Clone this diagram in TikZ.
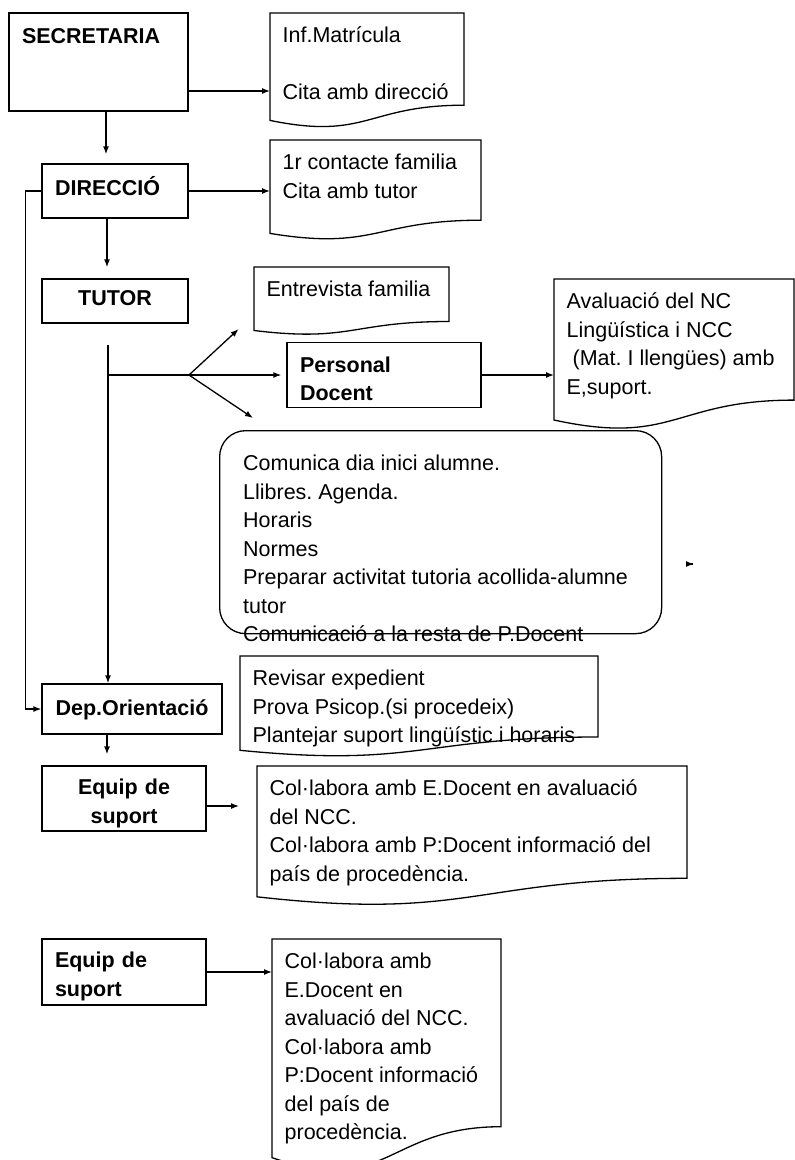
\documentclass[tikz,border=0pt]{standalone}
\usepackage{fontspec}
\setmainfont{Liberation Sans}
\usetikzlibrary{arrows.meta}

\tikzset{every picture/.style={line width=1.3pt}}

\begin{document}
\begin{tikzpicture}[x=1pt,y=-1pt,
  box/.style={draw, inner sep=0pt, font=\bfseries\fontsize{21.5}{28.5}\selectfont},
  doctext/.style={anchor=north west, align=left, inner xsep=12pt, inner ysep=9pt, font=\fontsize{21.5}{28.5}\selectfont\frenchspacing},
  arr/.style={-{Latex[length=8pt,width=6pt]}}]
\useasboundingbox (0,0) rectangle (795,1160);

%Shape: Rectangle
\node (sec) [box, minimum width=179pt, minimum height=98pt, text width=153pt, align=left, inner xsep=13pt, text height=30pt, text depth=68pt] at (98.5,62) {SECRETARIA};
%Shape: Rectangle
\node (dir) [box, minimum width=146pt, minimum height=54pt, text width=120pt, align=left, inner xsep=13pt, text height=31pt, text depth=23pt] at (115,191) {DIRECCIÓ};
%Shape: Rectangle
\node (tutor) [box, minimum width=146pt, minimum height=44pt, text height=26.7pt, text depth=17.3pt] at (115,301) {TUTOR};
%Shape: Rectangle
\node (pers) [box, minimum width=194pt, minimum height=65pt, text width=168pt, align=left, inner xsep=13pt, text height=29.7pt, text depth=35.3pt] at (384,375) {Personal\\Docent};
%Shape: Rectangle
\node (dep) [box, minimum width=180pt, minimum height=50pt, text height=31.7pt, text depth=18.3pt] at (132,709) {Dep.Orientació};
%Shape: Rectangle
\node (equipa) [box, minimum width=164pt, minimum height=65pt, text width=138pt, align=center, inner xsep=13pt, text height=28.7pt, text depth=36.3pt] at (124,798.5) {Equip de\\suport};
%Shape: Rectangle
\node (equipb) [box, minimum width=164pt, minimum height=66pt, text width=138pt, align=left, inner xsep=13pt, text height=28.7pt, text depth=37.3pt] at (124,972) {Equip de\\suport};

%Rounded Rect
\node (acc) [draw, rounded corners=26pt, minimum width=442pt, minimum height=203pt, anchor=north west] at (219,430) {};

%Flowchart: Document
\draw (270,13) -- (464,13) -- (464,105.2) .. controls (367,105.2) and (367,140.4) .. (270,120.4) -- cycle;
%Flowchart: Document
\draw (270,140) -- (481,140) -- (481,220.2) .. controls (375.5,220.2) and (375.5,250.75) .. (270,233.4) -- cycle;
%Flowchart: Document
\draw (254,267) -- (449,267) -- (449,321.5) .. controls (351.5,321.5) and (351.5,342.3) .. (254,330.5) -- cycle;
%Flowchart: Document
\draw (554,279) -- (794,279) -- (794,400.1) .. controls (674,400.1) and (674,446.2) .. (554,420) -- cycle;
%Flowchart: Document
\draw (240,656) -- (598,656) -- (598,737) .. controls (419,737) and (419,767.9) .. (240,750.3) -- cycle;
%Flowchart: Document
\draw (257,766) -- (687,766) -- (687,878.3) .. controls (472,878.3) and (472,921) .. (257,896.8) -- cycle;
%Flowchart: Document
\draw (272,939) -- (501,939) -- (501,1126.7) .. controls (386.5,1126.7) and (386.5,1198.2) .. (272,1157.6) -- cycle;

% Text Node
\node (inf) [doctext] at (270,13) {\strut Inf.Matrícula\\[28.5pt]Cita amb direcció};
% Text Node
\node (cont) [doctext] at (270,140) {\strut 1r contacte familia\\Cita amb tutor};
% Text Node
\node (entr) [doctext] at (254,267) {\strut Entrevista familia};
% Text Node
\node (aval) [doctext] at (554,279) {\strut Avaluació del NC\\Lingüística i NCC\\\hspace*{6pt}(Mat. I llengües) amb\\E,suport.};
% Text Node
\node (accT) [doctext] at (230.5,441) {\strut Comunica dia inici alumne.\\Llibres. Agenda.\\Horaris\\Normes\\Preparar activitat tutoria acollida-alumne\\tutor\\Comunicació a la resta de P.Docent};
% Text Node
\node (rev) [doctext] at (240,656) {\strut Revisar expedient\\Prova Psicop.(si procedeix)\\Plantejar suport lingüístic i horaris};
% Text Node
\node (cola) [doctext] at (257,766) {\strut Col·labora amb E.Docent en avaluació\\del NCC.\\Col·labora amb P:Docent informació del\\país de procedència.};
% Text Node
\node (colb) [doctext] at (272,939) {\strut Col·labora amb\\E.Docent en\\avaluació del NCC.\\Col·labora amb\\P:Docent informació\\del país de\\procedència.};

\coordinate (fork) at (189,375);
\coordinate (accin) at (253,418);
\coordinate (stray) at (694,564);

%Straight Lines
\draw [arr] ([yshift=-29pt]sec.east) -- ([yshift=-29pt]sec.east -| inf.west);
%Straight Lines
\draw [arr, shorten >=9pt] ([xshift=7.5pt]sec.south) -- ([xshift=7.5pt]sec.south |- dir.north);
%Straight Lines
\draw [arr] (dir.east) -- (dir.east -| cont.west);
%Straight Lines
\draw [arr, shorten >=11pt] ([xshift=-8pt]dir.south) -- ([xshift=-8pt]dir.south |- tutor.north);
%Straight Lines
\draw [arr] ([xshift=-7pt,yshift=-21pt]tutor.south) -- ([xshift=-7pt]tutor.south |- dep.north);
%Straight Lines
\draw ([xshift=-7pt]tutor.south |- fork) -- (fork);
%Straight Lines
\draw [arr, shorten >=21pt] (fork) -- (entr.south west);
%Straight Lines
\draw [arr, shorten >=5pt] (fork) -- (pers.west);
%Straight Lines
\draw [arr] (fork) -- (accin);
%Straight Lines
\draw [arr] (pers.east) -- (pers.east -| aval.west);
%Straight Lines
\draw [arr] ([xshift=-1pt]stray) -- (stray);
%Straight Lines
\draw [arr] (dir.west) -- ++(-16,0) |- (dep.west);
%Straight Lines
\draw [arr, shorten >=11pt] ([xshift=-25pt]dep.south) -- ([xshift=-25pt]dep.south |- equipa.north);
%Straight Lines
\draw [arr, shorten >=18pt] ([yshift=-7.5pt]equipa.east) -- ([yshift=-7.5pt]equipa.east -| cola.west);
%Straight Lines
\draw [arr] (equipb.east) -- (equipb.east -| colb.west);

\end{tikzpicture}
\end{document}
